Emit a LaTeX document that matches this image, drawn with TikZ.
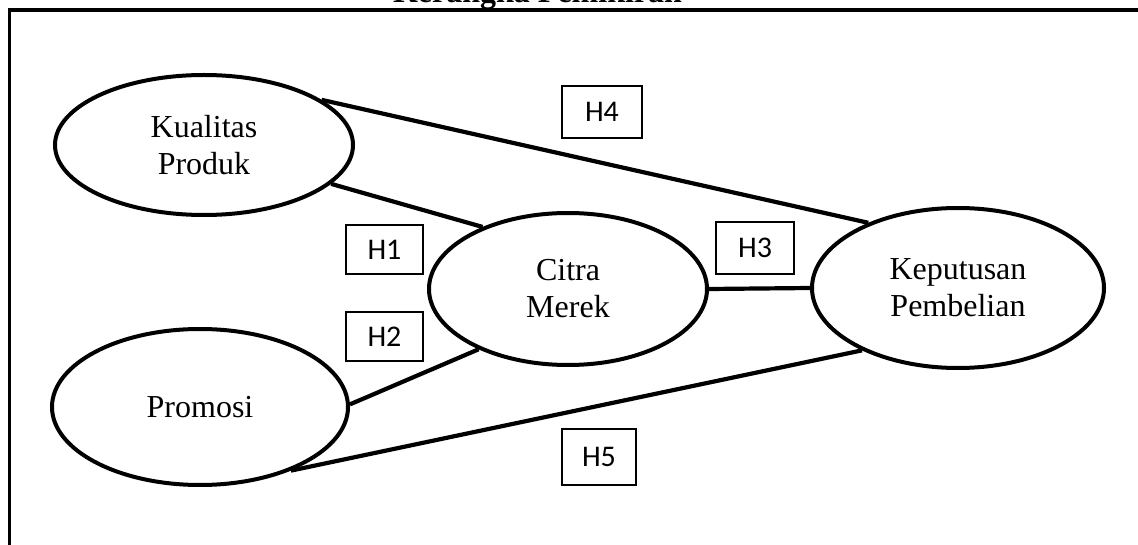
\documentclass[tikz,border=0pt]{standalone}
\usepackage{fontspec}
\setmainfont{Liberation Serif}
\newfontfamily\hypfont{Carlito}
\usetikzlibrary{shapes.geometric}

\begin{document}
\begin{tikzpicture}[
    x=1pt, y=-1pt,
    var/.style={ellipse, draw, line width=4pt, inner sep=0pt, align=center,
        font=\fontsize{32}{37}\selectfont},
    hyp/.style={draw, line width=1.3pt, inner sep=0pt, font=\hypfont\fontsize{30}{32}\selectfont},
    link/.style={line width=4.2pt}
]
\useasboundingbox (0,0) rectangle (1138,545);

\node[anchor=base, font=\bfseries\fontsize{32}{36}\selectfont] (title) at (537.5,3) {Kerangka Pemikiran};
\draw[line width=4.5pt] (1140,10) -- (7.5,10);
\draw[line width=3pt] (9,8) -- (9,550);

\node[var, minimum width=298pt, minimum height=140pt] (kualitas) at (204,145) {Kualitas\\Produk};
\node[var, minimum width=296pt, minimum height=156pt] (promosi) at (200,407) {Promosi};
\node[var, minimum width=278pt, minimum height=152pt] (citra) at (568,289) {Citra\\Merek};
\node[var, minimum width=292pt, minimum height=160pt] (keputusan) at (958,288) {Keputusan\\Pembelian};

\node[hyp, minimum width=77pt, minimum height=49pt] (h1) at (384.5,249.5) {H1};
\node[hyp, minimum width=77pt, minimum height=49pt] (h2) at (384.5,336.5) {H2};
\node[hyp, minimum width=78pt, minimum height=52pt] (h3) at (755,248) {H3};
\node[hyp, minimum width=80pt, minimum height=52pt] (h4) at (602,112) {H4};
\node[hyp, minimum width=74pt, minimum height=56pt] (h5) at (599,457) {H5};

\draw[link] (kualitas.21.5) -- (keputusan.144);
\draw[link] (kualitas.-17) -- (citra.144.9);
\draw[link] (promosi.1) -- (citra.214);
\draw[link] (citra.east) -- (keputusan.west);
\draw[link] (promosi.-35.6) -- (keputusan.213);

\end{tikzpicture}
\end{document}
